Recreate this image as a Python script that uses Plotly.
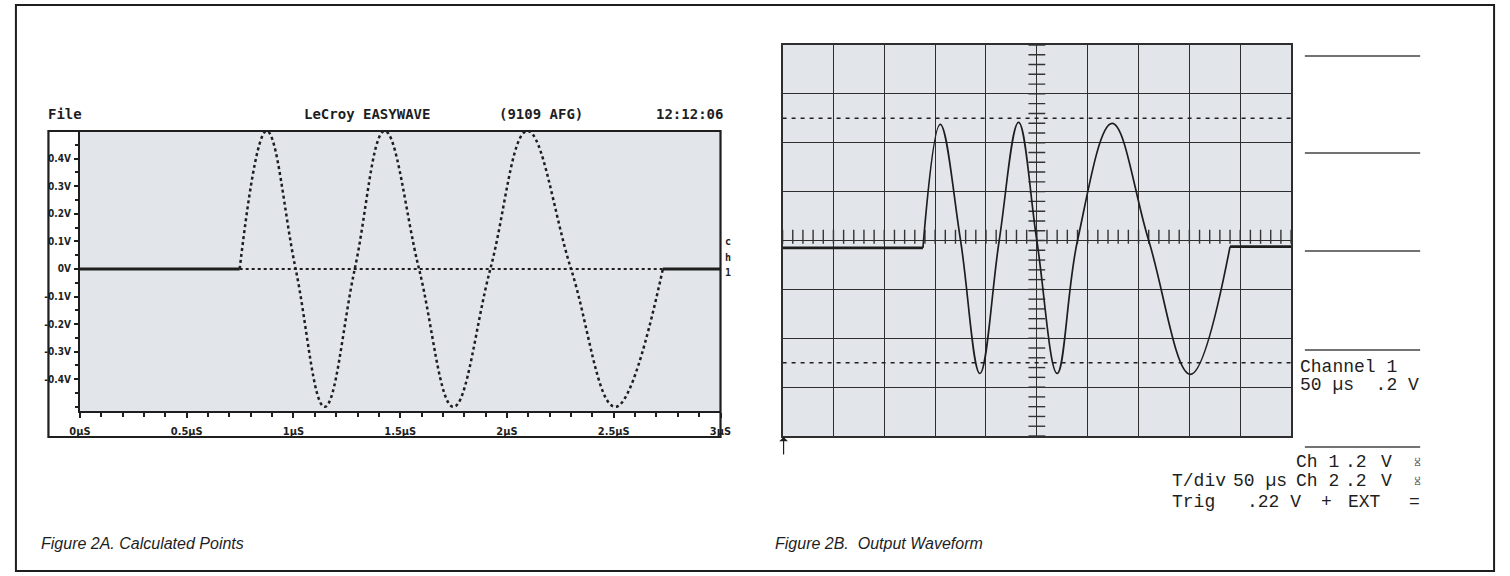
import numpy as np
import plotly.graph_objects as go

W, H = 1510, 576
def px(x): return x / W
def py(y): return 1 - y / H

# ---------------- Figure 2A data (time in µs, level in V) ----------------
a_start_t = [0.0, 0.748]
a_start_v = [0.0, 0.0]
a_wave_t = [0.748, 0.874, 1.010, 1.146, 1.287, 1.427, 1.588, 1.749, 1.922, 2.095, 2.300, 2.507, 2.730]
a_wave_v = [0.0, 0.5, 0.0, -0.5, 0.0, 0.5, 0.0, -0.5, 0.0, 0.5, 0.0, -0.5, 0.0]
a_base_t = [0.748, 2.730]
a_base_v = [0.0, 0.0]
a_end_t = [2.730, 3.0]
a_end_v = [0.0, 0.0]
a_ytick_vals = [0.4, 0.3, 0.2, 0.1, 0.0, -0.1, -0.2, -0.3, -0.4]
a_ytick_text = ["0.4V", "0.3V", "0.2V", "0.1V", "0V", "-0.1V", "-0.2V", "-0.3V", "-0.4V"]
a_xtick_vals = [0, 0.5, 1, 1.5, 2, 2.5, 3]
a_xtick_text = ["0µS", "0.5µS", "1µS", "1.5µS", "2µS", "2.5µS", "3µS"]

# ---------------- Figure 2B data (time in µs, level in V) ----------------
b_start_t = [0, 138]
b_start_v = [-0.03, -0.03]
b_wave_t = [138, 155, 175, 194, 213, 232, 250, 270, 290, 324, 360, 401, 440]
b_wave_v = [-0.03, 0.475, 0.0, -0.544, 0.0, 0.483, 0.0, -0.544, 0.0, 0.479, 0.0, -0.548, -0.025]
b_end_t = [440, 500]
b_end_v = [-0.025, -0.025]
b_ref_levels = [0.5, -0.5]
B_TDIV, B_VDIV = 50, 0.2

INK = "#1e1e1e"
PANEL = "#e2e6ea"
mono = "DejaVu Sans Mono"
cond = "DejaVu Sans Condensed"

fig = go.Figure()

# ---- 2A traces
fig.add_trace(go.Scatter(x=a_start_t, y=a_start_v, mode="lines",
                         line=dict(color=INK, width=3), xaxis="x", yaxis="y"))
fig.add_trace(go.Scatter(x=a_base_t, y=a_base_v, mode="lines",
                         line=dict(color=INK, width=2, dash="dot"), xaxis="x", yaxis="y"))
fig.add_trace(go.Scatter(x=a_wave_t, y=a_wave_v, mode="lines",
                         line=dict(color=INK, width=2.5, dash="dot", shape="spline", smoothing=1.15),
                         xaxis="x", yaxis="y"))
fig.add_trace(go.Scatter(x=a_end_t, y=a_end_v, mode="lines",
                         line=dict(color=INK, width=3), xaxis="x", yaxis="y"))

# ---- 2B graticule minor ticks on center lines
b_minor_t = np.arange(0, 10 * B_TDIV + 1, B_TDIV / 5)
b_minor_v = np.round(np.arange(-4 * B_VDIV, 4 * B_VDIV + 1e-9, B_VDIV / 5), 4)
fig.add_trace(go.Scatter(x=b_minor_t, y=[0.015] * len(b_minor_t), mode="markers",
                         marker=dict(symbol="line-ns", size=10, line=dict(color="#333", width=1.4)),
                         xaxis="x2", yaxis="y2"))
fig.add_trace(go.Scatter(x=[5 * B_TDIV] * len(b_minor_v), y=b_minor_v, mode="markers",
                         marker=dict(symbol="line-ew", size=12, line=dict(color="#333", width=1.4)),
                         xaxis="x2", yaxis="y2"))
# reference dashed levels
for lv in b_ref_levels:
    fig.add_trace(go.Scatter(x=[0, 10 * B_TDIV], y=[lv, lv], mode="lines",
                             line=dict(color=INK, width=1.6, dash="4px,5px"),
                             xaxis="x2", yaxis="y2"))
# ---- 2B waveform
fig.add_trace(go.Scatter(x=b_start_t, y=b_start_v, mode="lines",
                         line=dict(color=INK, width=2.6), xaxis="x2", yaxis="y2"))
fig.add_trace(go.Scatter(x=b_wave_t, y=b_wave_v, mode="lines",
                         line=dict(color=INK, width=1.7, shape="spline", smoothing=1.1),
                         xaxis="x2", yaxis="y2"))
fig.add_trace(go.Scatter(x=b_end_t, y=b_end_v, mode="lines",
                         line=dict(color=INK, width=2.6), xaxis="x2", yaxis="y2"))

fig.update_layout(
    width=W, height=H, margin=dict(l=0, r=0, t=0, b=0), autosize=False,
    paper_bgcolor="white", plot_bgcolor=PANEL, showlegend=False,
    xaxis=dict(domain=[px(70), px(720)], range=[0, 3], anchor="y",
               tickvals=a_xtick_vals, ticktext=a_xtick_text, ticks="outside", ticklen=5,
               tickwidth=1.5, tickcolor=INK, showline=True, linecolor=INK, linewidth=2,
               showgrid=False, zeroline=False, ticklabelstandoff=4,
               tickfont=dict(family=cond, size=11, color=INK, weight="bold"),
               minor=dict(dtick=0.1, tick0=0, ticks="outside", ticklen=4, tickcolor=INK, tickwidth=1.5)),
    yaxis=dict(domain=[py(411), py(131)], range=[-0.515, 0.5], anchor="x",
               tickvals=a_ytick_vals, ticktext=a_ytick_text, ticks="outside", ticklen=4,
               tickwidth=1.5, tickcolor=INK, showline=True, linecolor=INK, linewidth=2,
               showgrid=False, zeroline=False, ticklabelstandoff=1,
               tickfont=dict(family=cond, size=10, color=INK, weight="bold"),
               minor=dict(dtick=0.05, tick0=0, ticks="outside", ticklen=3, tickcolor=INK, tickwidth=1.5)),
    xaxis2=dict(domain=[px(783), px(1299)], range=[0, 10 * B_TDIV], anchor="y2",
                dtick=B_TDIV, tick0=0, showgrid=True, gridcolor="#2e2e2e", gridwidth=1.4,
                showline=True, mirror=True, linecolor="#2e2e2e", linewidth=1.6,
                ticks="", showticklabels=False, zeroline=False),
    yaxis2=dict(domain=[py(436), py(45)], range=[-4 * B_VDIV, 4 * B_VDIV], anchor="x2",
                dtick=B_VDIV, tick0=0, showgrid=True, gridcolor="#2e2e2e", gridwidth=1.4,
                showline=True, mirror=True, linecolor="#2e2e2e", linewidth=1.6,
                ticks="", showticklabels=False, zeroline=False),
)

shapes = []
# outer border of page
shapes.append(dict(type="rect", xref="paper", yref="paper", x0=px(5), x1=px(1505), y0=py(571), y1=py(5),
                   line=dict(color=INK, width=2)))
# 2A frame
shapes.append(dict(type="rect", xref="paper", yref="paper", x0=px(38), x1=px(720), y0=py(437), y1=py(131),
                   line=dict(color=INK, width=2.2)))
# 2B menu separators
for yy in [56, 153, 251, 350, 447]:
    shapes.append(dict(type="line", xref="paper", yref="paper", x0=px(1313), x1=px(1430), y0=py(yy), y1=py(yy),
                       line=dict(color="#444", width=1.5)))
fig.update_layout(shapes=shapes)

ann = []
def text(x, y, s, size, family, xanchor="left", weight="normal", style="normal", color=INK, angle=0):
    ann.append(dict(x=px(x), y=py(y), xref="paper", yref="paper", text=s, showarrow=False,
                    xanchor=xanchor, yanchor="middle", textangle=angle,
                    font=dict(family=family, size=size, color=color, weight=weight, style=style)))

# 2A header
text(36, 114, "File", 14, mono, weight="bold")
text(295, 114, "LeCroy EASYWAVE", 14, mono, weight="bold")
text(493, 114, "(9109 AFG)", 14, mono, weight="bold")
text(725, 114, "12:12:06", 14, mono, xanchor="right", weight="bold")
for yy, ch in [(242, "c"), (257, "h"), (273, "1")]:
    text(723, yy, ch, 10, mono, weight="bold")

# 2B readouts
lm = "Liberation Mono"
text(1306, 367, "Channel 1", 18, lm)
text(1306, 385, "50 µs  .2 V", 18, lm)
for tok, xx in [("Ch 1", 1302), (".2", 1352), ("V", 1388)]:
    text(xx, 462, tok, 18, lm)
for tok, xx in [("T/div", 1176), ("50 µs", 1238), ("Ch 2", 1302), (".2", 1352), ("V", 1388)]:
    text(xx, 481, tok, 18, lm)
for tok, xx in [("Trig", 1176), (".22 V", 1252), ("+", 1327), ("EXT", 1355), ("=", 1417)]:
    text(xx, 502, tok, 18, lm)
text(1420, 462, "DC", 8, lm, angle=-90)
text(1420, 481, "DC", 8, lm, angle=-90)

# captions
text(28, 543, "Figure 2A. Calculated Points", 16, "Liberation Sans", style="italic")
text(773, 543, "Figure 2B.  Output Waveform", 16, "Liberation Sans", style="italic")

# trigger arrow
ann.append(dict(x=px(784), y=py(437), xref="paper", yref="paper", ax=0, ay=19, text="",
                showarrow=True, arrowhead=1, arrowsize=1.2, arrowwidth=1.2, arrowcolor=INK))

fig.update_layout(annotations=ann)
fig.write_html("out.html", config={"displayModeBar": False},
               post_script="document.body.style.margin='0';document.body.style.overflow='hidden';")
